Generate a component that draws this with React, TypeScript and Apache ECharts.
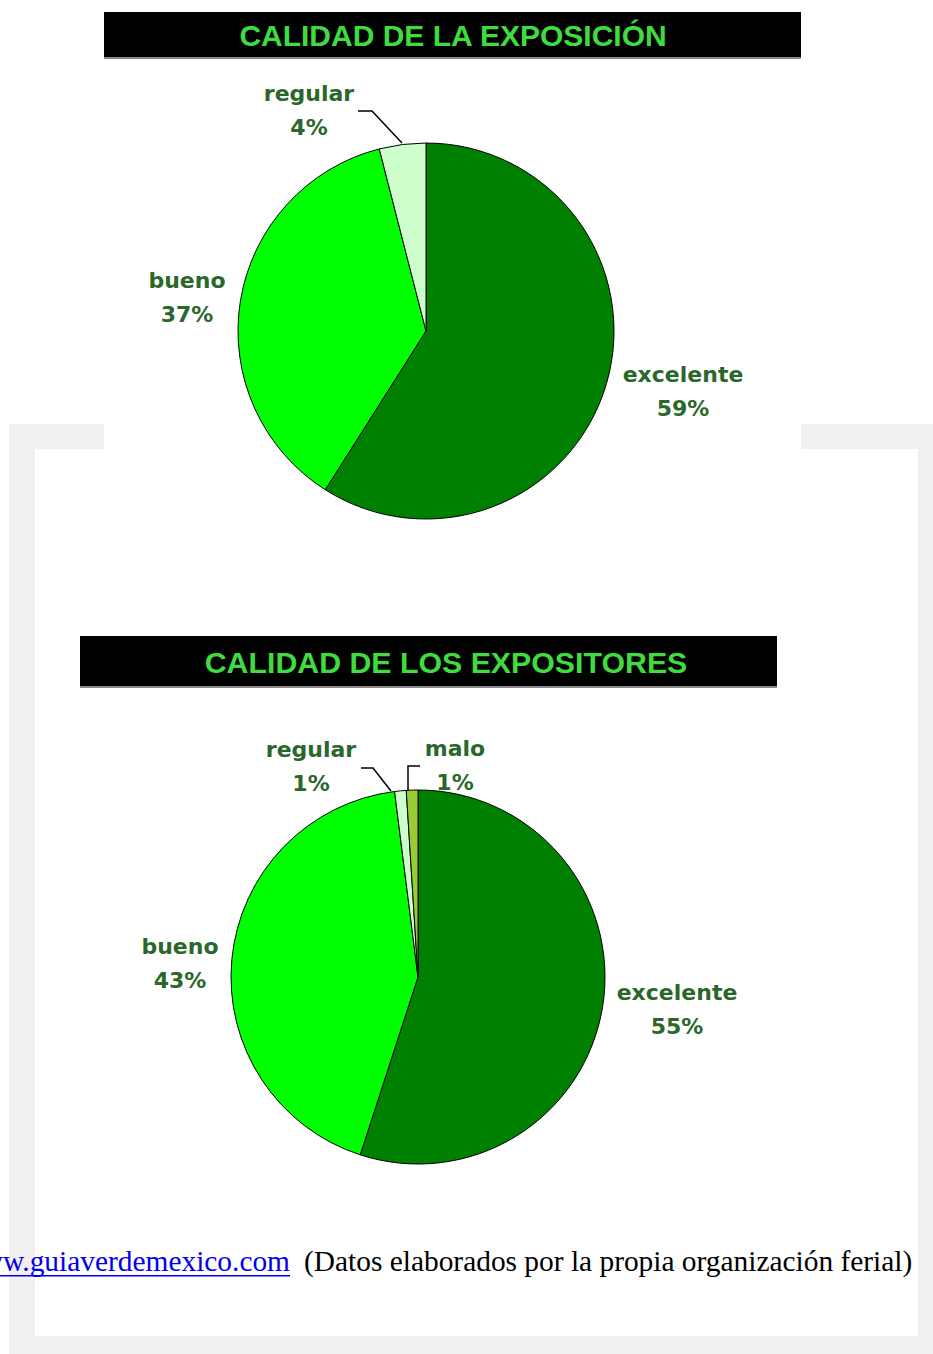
import React, { useEffect, useRef } from "react";
import * as echarts from "echarts";

const titles = ["CALIDAD DE LA EXPOSICIÓN", "CALIDAD DE LOS EXPOSITORES"];

const cats1 = ["excelente", "bueno", "regular"];
const vals1 = [59, 37, 4];

const cats2 = ["excelente", "bueno", "regular", "malo"];
const vals2 = [55, 43, 1, 1];

const sourceLink = "www.guiaverdemexico.com";
const sourceNote = "(Datos elaborados por la propia organización ferial)";

const sliceColors: Record<string, string> = {
  excelente: "#008000",
  bueno: "#00ff00",
  regular: "#ccffcc",
  malo: "#99cc33",
};

// label anchor positions (layout)
const labelPos1: [number, number][] = [
  [683, 391],
  [187, 297],
  [309, 110],
];
const labelPos2: [number, number][] = [
  [677, 1009],
  [180, 963],
  [311, 766],
  [455, 765],
];

const labelStyle = {
  show: true,
  formatter: "{b}\n{c}%",
  color: "#2a672a",
  fontFamily: "DejaVu Sans",
  fontWeight: "bold" as const,
  fontSize: 22,
  lineHeight: 34,
  align: "center" as const,
};

function pieSeries(cats: string[], vals: number[], center: [number, number], r: number, pos: [number, number][]) {
  return {
    type: "pie",
    center,
    radius: r,
    startAngle: 90,
    clockwise: true,
    silent: true,
    data: cats.map((c, i) => ({
      name: c,
      value: vals[i],
      itemStyle: { color: sliceColors[c], borderColor: "#000", borderWidth: 1 },
    })),
    label: labelStyle,
    labelLine: { show: false },
    labelLayout: (p: any) => ({
      x: pos[p.dataIndex][0],
      y: pos[p.dataIndex][1],
      align: "center",
      verticalAlign: "middle",
      hideOverlap: false,
      moveOverlap: null,
    }),
    emphasis: { disabled: true },
  };
}

function titleBar(text: string, x: number, y: number, w: number, h: number, tx: number, size: number) {
  return [
    { type: "rect", shape: { x, y, width: w, height: h }, style: { fill: "#000" } },
    { type: "rect", shape: { x, y: y + h - 2, width: w, height: 2 }, style: { fill: "#8a8a8a" } },
    {
      type: "text",
      x: tx,
      y: y + (h - 2) / 2 + 1,
      style: {
        text,
        fill: "#3fdc3f",
        font: `bold ${size}px 'Liberation Sans', Arial, sans-serif`,
        textAlign: "center",
        textVerticalAlign: "middle",
        shadowColor: "#0a8a0a",
        shadowBlur: 4,
      },
    },
  ];
}

export default function App() {
  const ref = useRef<HTMLDivElement>(null);
  useEffect(() => {
    if (!ref.current) return;
    const chart = echarts.init(ref.current, undefined, { renderer: "svg" });
    const lineStyle = { stroke: "#000", lineWidth: 1.5, fill: null };
    chart.setOption({
      animation: false,
      backgroundColor: "#fff",
      graphic: [
        // grey frame
        { type: "rect", shape: { x: 9, y: 424, width: 924, height: 930 }, style: { fill: "#f2efef" }, z: -10 },
        { type: "rect", shape: { x: 35, y: 449, width: 883, height: 887 }, style: { fill: "#fff" }, z: -9 },
        { type: "rect", shape: { x: 104, y: 420, width: 697, height: 40 }, style: { fill: "#fff" }, z: -8 },
        ...titleBar(titles[0], 104, 12, 697, 47, 453, 30),
        ...titleBar(titles[1], 80, 636, 697, 52, 446, 30.3),
        // leader lines
        { type: "polyline", shape: { points: [[358, 111], [372, 111], [402, 143]] }, style: lineStyle },
        { type: "polyline", shape: { points: [[361, 768], [373, 768], [391, 791]] }, style: lineStyle },
        { type: "polyline", shape: { points: [[420, 766], [408, 766], [408, 791]] }, style: lineStyle },
        // source line
        {
          type: "text",
          x: 290,
          y: 1261,
          style: {
            text: sourceLink,
            fill: "#0000ee",
            font: "29.4px 'Liberation Serif', 'Times New Roman', serif",
            textAlign: "right",
            textVerticalAlign: "middle",
          },
        },
        { type: "rect", shape: { x: 0, y: 1275, width: 290, height: 1.5 }, style: { fill: "#0000ee" } },
        {
          type: "text",
          x: 304,
          y: 1261,
          style: {
            text: sourceNote,
            fill: "#000",
            font: "29.4px 'Liberation Serif', 'Times New Roman', serif",
            textAlign: "left",
            textVerticalAlign: "middle",
          },
        },
      ],
      series: [
        pieSeries(cats1, vals1, [426, 331], 188, labelPos1),
        pieSeries(cats2, vals2, [418, 977], 187, labelPos2),
      ],
    });
    return () => chart.dispose();
  }, []);
  return (
    <div
      ref={ref}
      style={{ position: "absolute", left: 0, top: 0, width: 933, height: 1354 }}
    />
  );
}
